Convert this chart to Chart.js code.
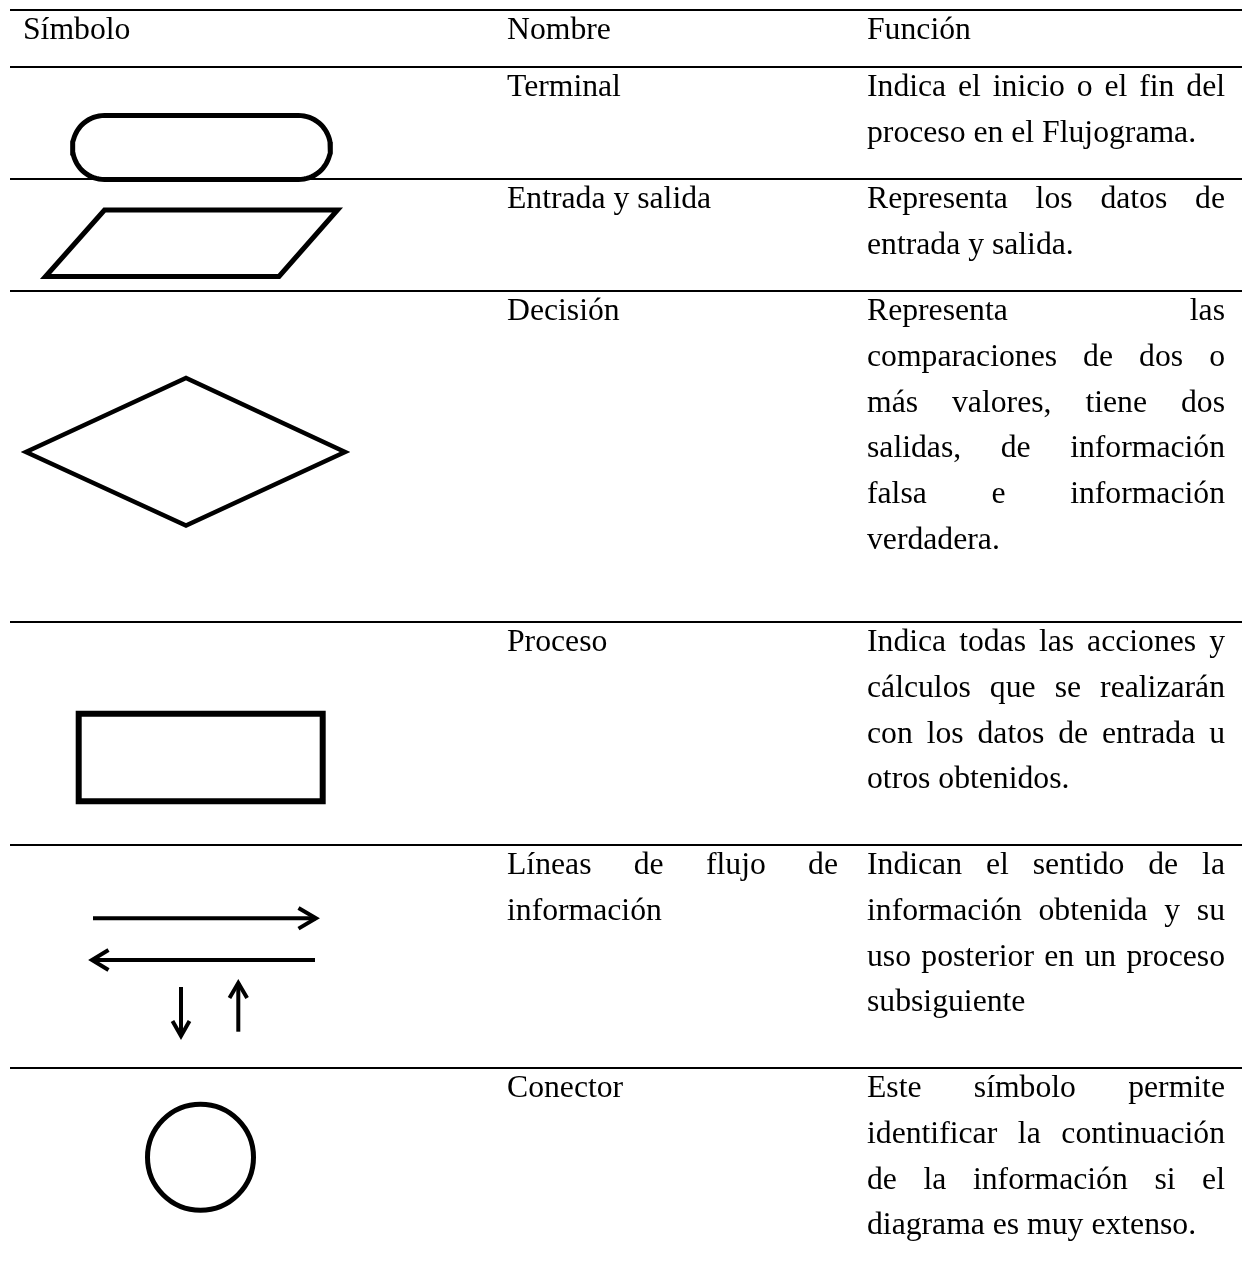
<!DOCTYPE html>
<html>
<head>
<meta charset="utf-8">
<script src="https://cdn.jsdelivr.net/npm/chart.js@4.4.0/dist/chart.umd.min.js"></script>
<style>
	html, body { margin: 0; padding: 0; background: #fff; }
	#wrap { position: relative; width: 1242px; height: 1282px; overflow: hidden; }
	#line-chart { position: absolute; left: 0; top: 0; }
	.cell {
		position: absolute;
		font-family: "Liberation Serif", "Times New Roman", serif;
		font-size: 31.7px;
		line-height: 45.8px;
		color: #000;
		text-align: justify;
		white-space: normal;
	}
</style>
</head>
<body>
<div id="wrap">
	<canvas id="line-chart" width="1242" height="1282"></canvas>
</div>
<script>
// table content
var headers = ['Símbolo', 'Nombre', 'Función'];
var symbolKinds = ['terminal', 'entradaSalida', 'decision', 'proceso', 'flujo', 'conector'];
var names = ['Terminal', 'Entrada y salida', 'Decisión', 'Proceso', 'Líneas de flujo de información', 'Conector'];
var functions = [
	'Indica el inicio o el fin del proceso en el Flujograma.',
	'Representa los datos de entrada y salida.',
	'Representa las comparaciones de dos o más valores, tiene dos salidas, de información falsa e información verdadera.',
	'Indica todas las acciones y cálculos que se realizarán con los datos de entrada u otros obtenidos.',
	'Indican el sentido de la información obtenida y su uso posterior en un proceso subsiguiente',
	'Este símbolo permite identificar la continuación de la información si el diagrama es muy extenso.'
];

// layout (page pixels, same as chart units)
var W = 1242, H = 1282;
var rowTops = [10, 67, 179, 291, 622, 845, 1068];
var cols = [
	{ left: 23, width: 470 },
	{ left: 507, width: 331 },
	{ left: 867, width: 358 }
];

function addCell(text, col, top) {
	var d = document.createElement('div');
	d.className = 'cell';
	d.style.left = col.left + 'px';
	d.style.width = col.width + 'px';
	d.style.top = (top - 3.9) + 'px';
	d.textContent = text;
	document.getElementById('wrap').appendChild(d);
}

for (var c = 0; c < headers.length; c++) {
	addCell(headers[c], cols[c], rowTops[0]);
}
for (var i = 0; i < names.length; i++) {
	addCell(names[i], cols[1], rowTops[i + 1]);
	addCell(functions[i], cols[2], rowTops[i + 1]);
}

function stroke(points, width) {
	return {
		data: points,
		showLine: true,
		borderColor: '#000',
		borderWidth: width,
		borderJoinStyle: 'miter',
		borderCapStyle: 'butt',
		pointRadius: 0,
		pointHoverRadius: 0,
		tension: 0,
		fill: false,
		clip: false
	};
}

function pt(x, y) { return { x: x, y: y }; }

// closed polygon, started in the middle of the first edge so every corner gets a miter
function polygon(v, width) {
	var m = pt((v[0].x + v[1].x) / 2, (v[0].y + v[1].y) / 2);
	var p = [m];
	for (var k = 1; k < v.length; k++) p.push(v[k]);
	p.push(v[0]);
	p.push(m);
	return stroke(p, width);
}

function stadium(x1, x2, y1, y2, width) {
	var r = (y2 - y1) / 2, cy = (y1 + y2) / 2;
	var p = [pt((x1 + x2) / 2, y1)];
	var a;
	for (a = -90; a <= 90; a += 5) {
		p.push(pt(x2 - r + r * Math.cos(a * Math.PI / 180), cy + r * Math.sin(a * Math.PI / 180)));
	}
	for (a = 90; a <= 270; a += 5) {
		p.push(pt(x1 + r + r * Math.cos(a * Math.PI / 180), cy + r * Math.sin(a * Math.PI / 180)));
	}
	p.push(pt((x1 + x2) / 2, y1));
	return stroke(p, width);
}

function arrow(from, tip, side1, side2, width) {
	return [stroke([from, tip], width), stroke([side1, tip, side2], width)];
}

var symbolDraw = {
	terminal: function() {
		return [stadium(72.5, 330.5, 115.5, 179.5, 5)];
	},
	entradaSalida: function() {
		return [polygon([pt(104.5, 210), pt(337.5, 210), pt(279, 276.5), pt(45.5, 276.5)], 5)];
	},
	decision: function() {
		return [polygon([pt(26, 452), pt(186, 378), pt(345, 452), pt(186, 525.5)], 4.5)];
	},
	proceso: function() {
		return [polygon([pt(78.7, 713.7), pt(322.7, 713.7), pt(322.7, 801.3), pt(78.7, 801.3)], 6)];
	},
	flujo: function() {
		return [].concat(
			arrow(pt(93, 918.3), pt(316, 918.3), pt(298.5, 908), pt(298.5, 928.6), 4),
			arrow(pt(315, 960), pt(92, 960), pt(108.5, 950), pt(108.5, 970), 4),
			arrow(pt(181, 987), pt(181, 1036), pt(172.5, 1021), pt(189.5, 1021), 4),
			arrow(pt(238.3, 1031.7), pt(238.3, 983), pt(229.5, 998), pt(247.1, 998), 4)
		);
	},
	conector: function() {
		return [{
			data: [pt(200.5, 1157.3)],
			showLine: false,
			clip: false,
			pointStyle: 'circle',
			pointRadius: 53,
			pointHoverRadius: 53,
			pointBorderWidth: 5,
			pointBorderColor: '#000',
			pointBackgroundColor: 'rgba(0,0,0,0)'
		}];
	}
};

var datasets = [];

// horizontal rules of the table
for (var r = 0; r < rowTops.length; r++) {
	datasets.push(stroke([pt(10, rowTops[r]), pt(W, rowTops[r])], 2));
}

for (var s = 0; s < symbolKinds.length; s++) {
	datasets = datasets.concat(symbolDraw[symbolKinds[s]]());
}

new Chart(document.getElementById('line-chart'), {
	type: 'scatter',
	data: { datasets: datasets },
	options: {
		responsive: false,
		animation: false,
		events: [],
		layout: { padding: 0, autoPadding: false },
		scales: {
			x: { type: 'linear', min: 0, max: W, display: false },
			y: { type: 'linear', min: 0, max: H, reverse: true, display: false }
		},
		plugins: {
			legend: { display: false },
			tooltip: { enabled: false }
		}
	}
});
</script>
</body>
</html>
